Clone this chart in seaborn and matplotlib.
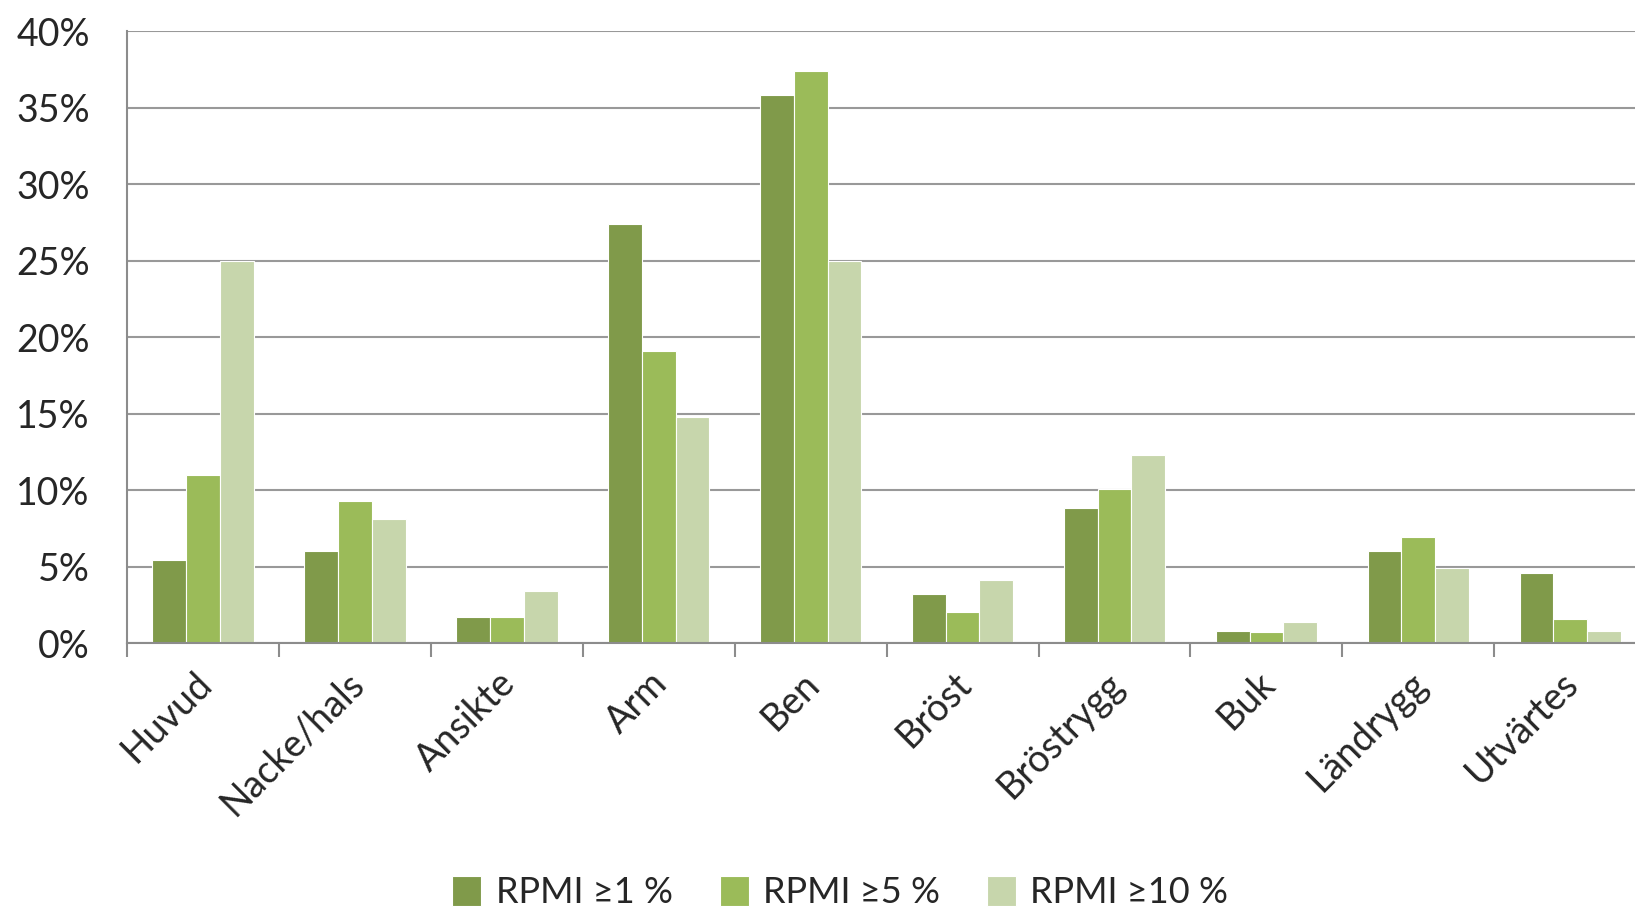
import pandas as pd
import matplotlib.pyplot as plt
import seaborn as sns
from matplotlib.ticker import FixedLocator, PercentFormatter
from matplotlib.transforms import ScaledTranslation

# Kroppsdelar och andel skador per RPMI-nivå (i procent)
kroppsdelar = ["Huvud", "Nacke/hals", "Ansikte", "Arm", "Ben", "Bröst",
               "Bröstrygg", "Buk", "Ländrygg", "Utvärtes"]
serier = ["RPMI ≥1 %", "RPMI ≥5 %", "RPMI ≥10 %"]
rpmi_1 = [5.4, 6.0, 1.7, 27.4, 35.8, 3.2, 8.8, 0.8, 6.0, 4.6]
rpmi_5 = [11.0, 9.3, 1.7, 19.1, 37.4, 2.0, 10.1, 0.7, 6.9, 1.6]
rpmi_10 = [25.0, 8.1, 3.4, 14.8, 25.0, 4.1, 12.3, 1.4, 4.9, 0.8]
farger = ["#809A4A", "#9BBB59", "#C7D6AC"]

df = pd.DataFrame({
    "kroppsdel": kroppsdelar * 3,
    "serie": [serier[0]] * 10 + [serier[1]] * 10 + [serier[2]] * 10,
    "andel": rpmi_1 + rpmi_5 + rpmi_10,
})

sns.set_theme(style="white")
plt.rcParams['font.family'] = ['Lato', 'DejaVu Sans']

fig = plt.figure(figsize=(16.35, 9.08), dpi=100)
ax = fig.add_axes([0.0778, 0.2918, 0.929, 0.674])

sns.barplot(data=df, x="kroppsdel", y="andel", hue="serie", order=kroppsdelar,
            hue_order=serier, palette=farger, width=0.667, saturation=1,
            edgecolor="white", linewidth=0.8, ax=ax, legend=True)

# Axlar och rutnät
ax.set_ylim(0, 40)
ax.set_xlim(-0.5, 9.5)
ax.set_yticks(range(0, 41, 5))
ax.yaxis.set_major_formatter(PercentFormatter(decimals=0))
ax.yaxis.grid(True, color="#999999", linewidth=1.5)
ax.set_axisbelow(True)
ax.set_xlabel("")
ax.set_ylabel("")

for side in ["top", "right"]:
    ax.spines[side].set_visible(False)
for side in ["left", "bottom"]:
    ax.spines[side].set_color("#8c8c8c")
    ax.spines[side].set_linewidth(1.5)

ax.tick_params(axis="y", length=13, width=1.5, color="#8c8c8c", labelsize=27, pad=14)
ax.tick_params(axis="x", which="major", length=0, labelsize=27, pad=16)
ax.xaxis.set_minor_locator(FixedLocator([i - 0.5 for i in range(11)]))
ax.tick_params(axis="x", which="minor", length=10, width=1.5, color="#8c8c8c", bottom=True)
skift = ScaledTranslation(-7 / 72, 0, fig.dpi_scale_trans)
for etikett in ax.get_xticklabels():
    etikett.set_rotation(45)
    etikett.set_ha("right")
    etikett.set_rotation_mode("anchor")
    etikett.set_transform(etikett.get_transform() + skift)

# Förklaring längst ner
handles, labels = ax.get_legend_handles_labels()
ax.get_legend().remove()
fig.legend(handles, labels, loc="lower center", bbox_to_anchor=(0.514, -0.037),
           ncol=3, frameon=False, handlelength=0.8, handleheight=0.9,
           handletextpad=0.4, columnspacing=1.3, prop={"size": 26})

fig.savefig("out.png", dpi=100)
plt.close(fig)
